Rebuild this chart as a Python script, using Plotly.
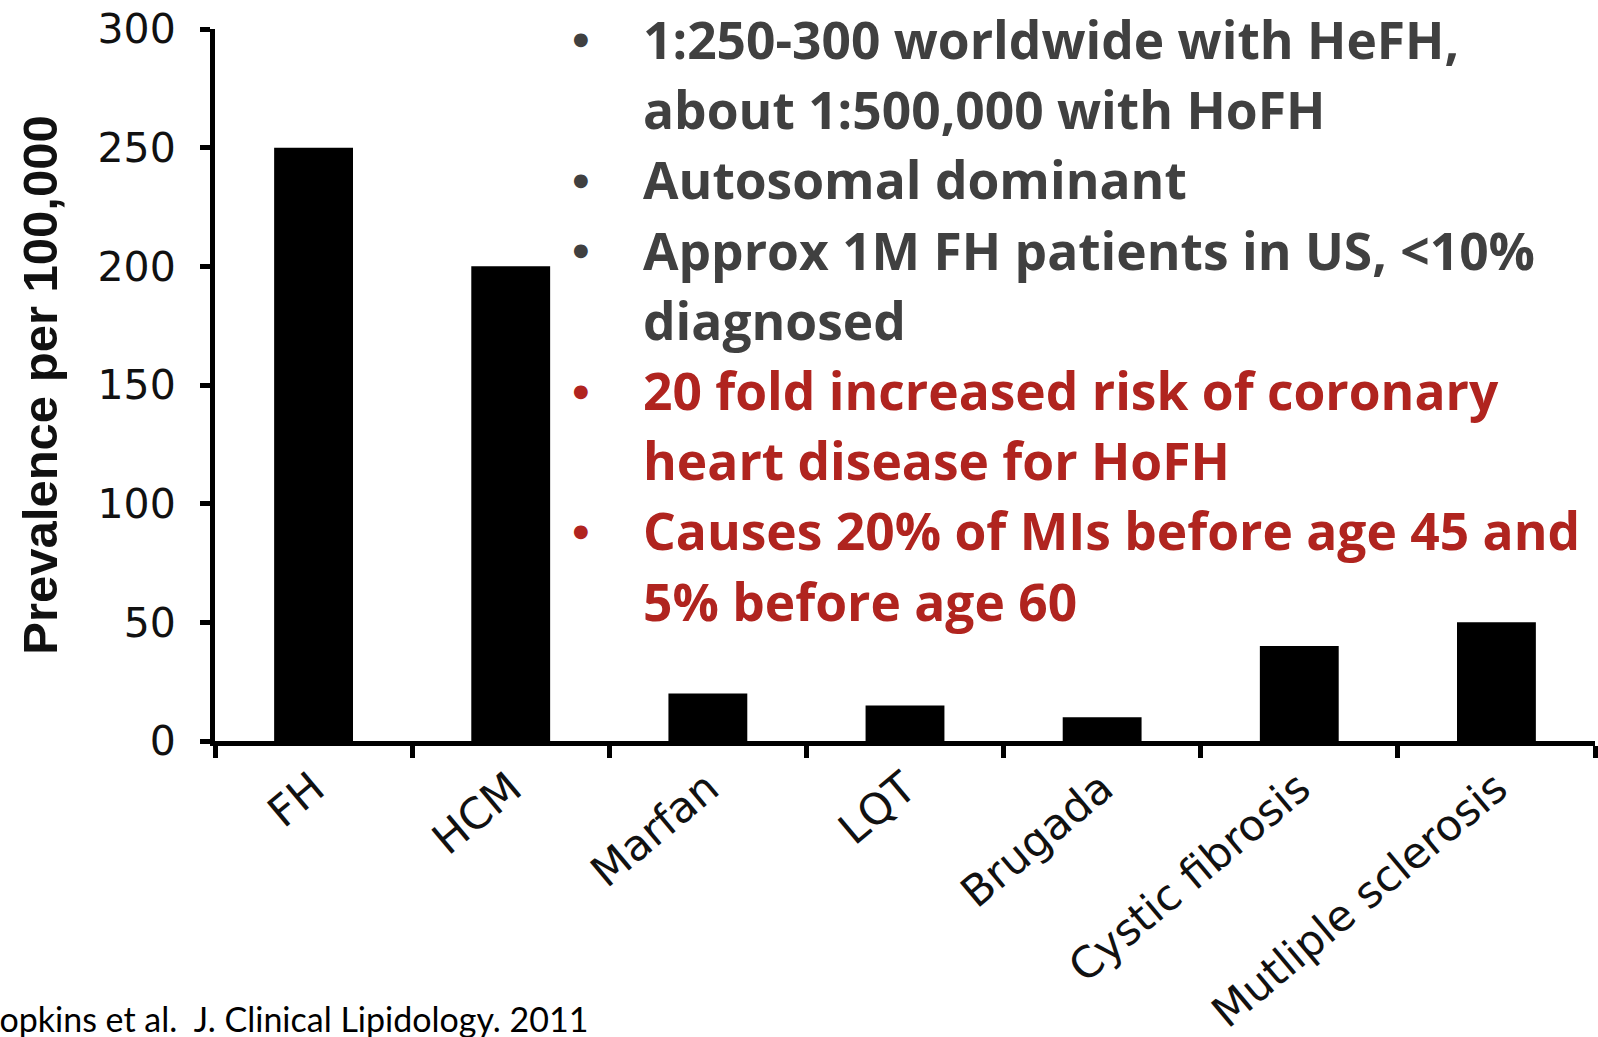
import plotly.graph_objects as go

# Prevalence of inherited conditions (per 100,000)
conditions = ["FH", "HCM", "Marfan", "LQT", "Brugada", "Cystic fibrosis", "Mutliple sclerosis"]
prevalence = [250, 200, 20, 15, 10, 40, 50]
y_ticks = [0, 50, 100, 150, 200, 250, 300]

# Bullet text beside the chart: (text, colour, has_bullet)
GRAY = "#404040"
RED = "#B0241F"
notes = [
    ("1:250-300 worldwide with HeFH,", GRAY, True),
    ("about 1:500,000 with HoFH", GRAY, False),
    ("Autosomal dominant", GRAY, True),
    ("Approx 1M FH patients in US, <10%", GRAY, True),
    ("diagnosed", GRAY, False),
    ("20 fold increased risk of coronary", RED, True),
    ("heart disease for HoFH", RED, False),
    ("Causes 20% of MIs before age 45 and", RED, True),
    ("5% before age 60", RED, False),
]
citation = "Hopkins et al.\u00a0 J. Clinical Lipidology. 2011"

W, H = 1598, 1037
ML, MR, MT, MB = 215, 3, 29, 296
PW, PH = W - ML - MR, H - MT - MB


def px_x(px):
    return (px - ML) / PW


def px_y(py):
    return (H - MB - py) / PH


fig = go.Figure(
    go.Bar(
        x=conditions,
        y=prevalence,
        width=0.4,
        marker=dict(color="black", line=dict(width=0)),
    )
)

annotations = []
line_top, line_step = 39, 70.2
for i, (txt, col, bullet) in enumerate(notes):
    yc = px_y(line_top + i * line_step)
    annotations.append(dict(
        text=f"<b>{txt}</b>", x=px_x(641), y=yc, xref="paper", yref="paper",
        xanchor="left", yanchor="middle", showarrow=False,
        font=dict(family="Open Sans", size=51.5, color=col),
    ))
    if bullet:
        annotations.append(dict(
            text="●", x=px_x(581), y=yc, xref="paper", yref="paper",
            xanchor="center", yanchor="middle", showarrow=False,
            font=dict(family="DejaVu Sans", size=18, color=col),
        ))

annotations.append(dict(
    text=citation, x=px_x(590), y=px_y(1018), xref="paper", yref="paper",
    xanchor="right", yanchor="middle", showarrow=False,
    font=dict(family="Lato", size=34, color="black"),
))

fig.update_layout(
    width=W, height=H,
    margin=dict(l=ML, r=MR, t=MT, b=MB, autoexpand=False),
    paper_bgcolor="white", plot_bgcolor="white",
    showlegend=False,
    bargap=0.6,
    annotations=annotations,
    xaxis=dict(
        type="category",
        range=[-0.5, len(conditions) - 0.5],
        showline=True, linecolor="black", linewidth=5,
        ticks="outside", tickson="boundaries", ticklen=12, tickwidth=5, tickcolor="black",
        tickangle=-40,
        tickfont=dict(family="DejaVu Sans", size=43, color="#111111"),
        showgrid=False, zeroline=False,
    ),
    yaxis=dict(
        range=[0, 300],
        tickvals=y_ticks,
        showline=True, linecolor="black", linewidth=5,
        ticks="outside", ticklen=10, tickwidth=5, tickcolor="black",
        ticklabelstandoff=16,
        tickfont=dict(family="DejaVu Sans", size=41, color="#111111"),
        showgrid=False, zeroline=False,
        title=dict(
            text="<b>Prevalence per 100,000</b>",
            font=dict(family="Liberation Sans", size=49, color="#111111"),
            standoff=26,
        ),
    ),
)

fig.write_html("out.html")
